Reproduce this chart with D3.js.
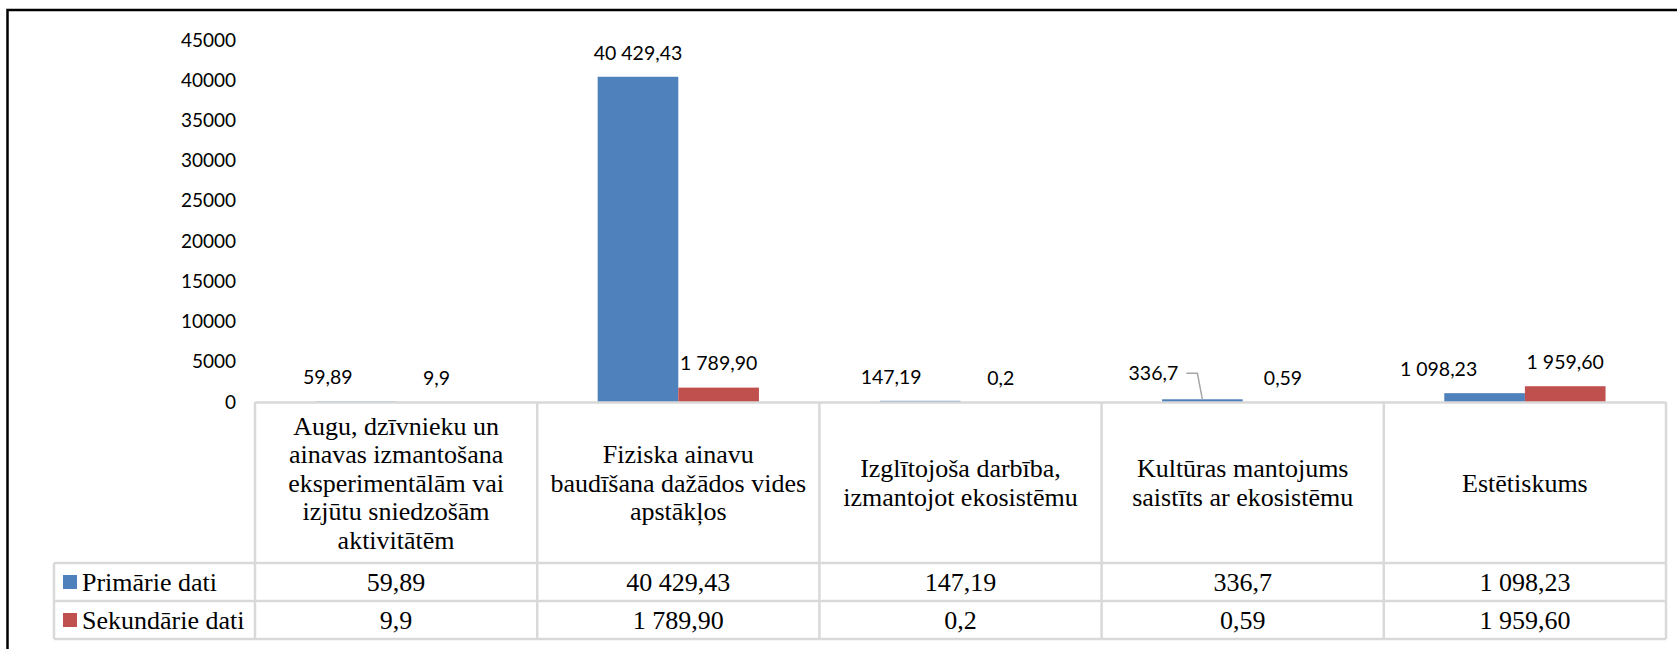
<!DOCTYPE html>
<html>
<head>
<meta charset="utf-8">
<script src="https://cdn.jsdelivr.net/npm/d3@7"></script>
<style>
  body { margin: 0; background: #fff; }
  svg { display: block; }
  .serif { font-family: "Liberation Serif", "Times New Roman", "DejaVu Serif", serif; }
  .sans { font-family: Lato, "Open Sans", sans-serif; }
</style>
</head>
<body>
<div id="chart"></div>
<script>
// data
const categories = [
    ["Augu, dzīvnieku un", "ainavas izmantošana", "eksperimentālām vai", "izjūtu sniedzošām", "aktivitātēm"],
    ["Fiziska ainavu", "baudīšana dažādos vides", "apstākļos"],
    ["Izglītojoša darbība,", "izmantojot ekosistēmu"],
    ["Kultūras mantojums", "saistīts ar ekosistēmu"],
    ["Estētiskums"]
];
const seriesNames = ["Primārie dati", "Sekundārie dati"];
const primary = [59.89, 40429.43, 147.19, 336.7, 1098.23];
const secondary = [9.9, 1789.90, 0.2, 0.59, 1959.60];
const primaryLabels = ["59,89", "40 429,43", "147,19", "336,7", "1 098,23"];
const secondaryLabels = ["9,9", "1 789,90", "0,2", "0,59", "1 959,60"];
const yTicks = [0, 5000, 10000, 15000, 20000, 25000, 30000, 35000, 40000, 45000];

// labels that were dragged aside in the original
const primaryLabelDx = [-28, 0, -29, -49, -46];

const colors = ["#4f81bd", "#c0504d"];
const width = 1677, height = 649;

const svg = d3.select("#chart")
              .append("svg")
              .attr("width", width)
              .attr("height", height);

// outer frame (only top and left edges show)
svg.append("rect")
   .attr("x", 7.5).attr("y", 10)
   .attr("width", width + 20).attr("height", height + 20)
   .attr("fill", "none")
   .attr("stroke", "#000")
   .attr("stroke-width", 2.5);

const keys = categories.map((c, i) => i);

const x0 = d3.scaleBand()
             .domain(keys)
             .range([255, 1666]);

const x1 = d3.scaleBand()
             .domain([0, 1])
             .range([0, x0.bandwidth()])
             .paddingOuter(0.75);

const y = d3.scaleLinear()
            .domain([0, 45000])
            .range([402, 40]);

// y axis
const yAxis = svg.append("g")
                 .attr("transform", "translate(236,0)")
                 .call(d3.axisLeft(y)
                         .tickValues(yTicks)
                         .tickFormat(d3.format("d"))
                         .tickSize(0)
                         .tickPadding(0));
yAxis.select(".domain").remove();
yAxis.attr("font-family", null).attr("font-size", null);
yAxis.selectAll("text")
     .attr("class", "sans")
     .style("font-size", "19px")
     .attr("fill", "#000");

const rows = [primary, secondary];
const labelRows = [primaryLabels, secondaryLabels];

// bars
rows.forEach((vals, s) => {
    svg.append("g")
       .selectAll("rect.bar")
       .data(vals)
       .enter()
       .append("rect")
       .attr("class", "bar")
       .attr("x", (d, i) => x0(i) + x1(s))
       .attr("y", d => y(d))
       .attr("width", x1.bandwidth())
       .attr("height", d => Math.max(0, y(0) - y(d)))
       .attr("fill", colors[s]);
});

// data labels
rows.forEach((vals, s) => {
    svg.append("g")
       .selectAll("text")
       .data(vals)
       .enter()
       .append("text")
       .attr("class", "sans")
       .attr("x", (d, i) => x0(i) + x1(s) + x1.bandwidth() / 2 + (s === 0 ? primaryLabelDx[i] : 0))
       .attr("y", (d, i) => y(d) - 24 - (s === 0 && i === 3 ? 2 : 0))
       .attr("dy", "0.35em")
       .attr("text-anchor", "middle")
       .style("font-size", "19.5px")
       .attr("fill", "#000")
       .text((d, i) => labelRows[s][i]);
});

// leader line for the moved 336,7 label
{
    const i = 3;
    const bx = x0(i) + x1(0) + x1.bandwidth() / 2;
    const ly = y(primary[i]) - 26;
    svg.append("path")
       .attr("d", d3.line()([[bx - 16, ly], [bx - 5, ly], [bx, y(primary[i])]]))
       .attr("fill", "none")
       .attr("stroke", "#a6a6a6")
       .attr("stroke-width", 1.5);
}

// data table
const tableTop = y(0), headBottom = 563, rowH = 38;
const legendLeft = 54;
const gridColor = "#d9d9d9";
const grid = svg.append("g")
                .attr("stroke", gridColor)
                .attr("stroke-width", 2.5);

const right = x0.range()[1];
grid.append("line")
    .attr("x1", x0.range()[0]).attr("x2", right)
    .attr("y1", tableTop + 0.5).attr("y2", tableTop + 0.5);
[0, 1, 2].forEach(r => {
    const yy = headBottom + r * rowH;
    grid.append("line")
        .attr("x1", legendLeft).attr("x2", right)
        .attr("y1", yy).attr("y2", yy);
});
grid.append("line")
    .attr("x1", legendLeft).attr("x2", legendLeft)
    .attr("y1", headBottom).attr("y2", headBottom + 2 * rowH);
keys.concat([keys.length]).forEach(i => {
    const xx = i < keys.length ? x0(i) : right;
    grid.append("line")
        .attr("x1", xx).attr("x2", xx)
        .attr("y1", tableTop).attr("y2", headBottom + 2 * rowH);
});

// category headers
const lineH = 28.5;
const headMid = (tableTop + headBottom) / 2;
categories.forEach((lines, i) => {
    const t = svg.append("text")
                 .attr("class", "serif")
                 .attr("text-anchor", "middle")
                 .style("font-size", "26px")
                 .attr("fill", "#000");
    lines.forEach((ln, k) => {
        t.append("tspan")
         .attr("x", x0(i) + x0.bandwidth() / 2)
         .attr("y", headMid + (k - (lines.length - 1) / 2) * lineH)
         .attr("dy", "0.35em")
         .text(ln);
    });
});

// legend cells and values
seriesNames.forEach((name, s) => {
    const cy = headBottom + s * rowH + rowH / 2;
    svg.append("rect")
       .attr("x", 63).attr("y", cy - 7)
       .attr("width", 14).attr("height", 14)
       .attr("fill", colors[s]);
    svg.append("text")
       .attr("class", "serif")
       .attr("x", 82).attr("y", cy)
       .attr("dy", "0.35em")
       .style("font-size", "26px")
       .attr("fill", "#000")
       .text(name);
    svg.append("g")
       .selectAll("text")
       .data(labelRows[s])
       .enter()
       .append("text")
       .attr("class", "serif")
       .attr("x", (d, i) => x0(i) + x0.bandwidth() / 2)
       .attr("y", cy)
       .attr("dy", "0.35em")
       .attr("text-anchor", "middle")
       .style("font-size", "26px")
       .attr("fill", "#000")
       .text(d => d);
});
</script>
</body>
</html>
